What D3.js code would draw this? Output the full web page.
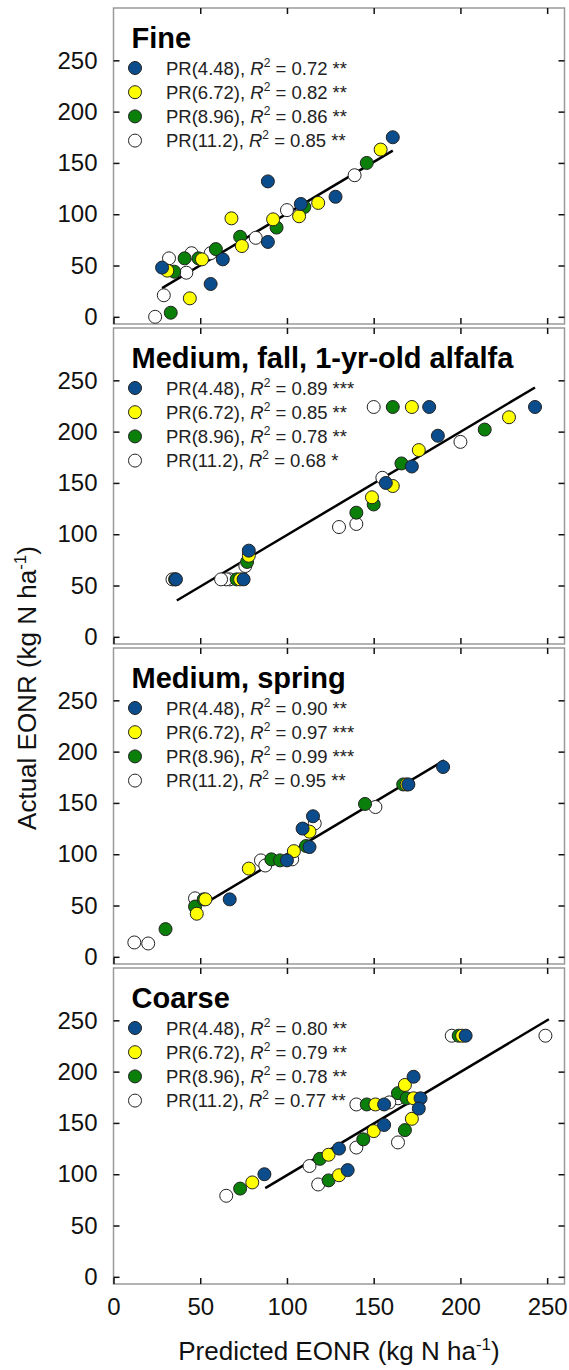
<!DOCTYPE html>
<html>
<head>
<meta charset="utf-8">
<script src="https://cdn.jsdelivr.net/npm/d3@7"></script>
<style>
  body { margin: 0; background: #fff; }
  svg { display: block; font-family: 'Liberation Sans', Arial, sans-serif; }
</style>
</head>
<body>
<svg id="chart" width="569" height="1370"></svg>
<script>
// panel titles and legend text
const panelTitles = ['Fine', 'Medium, fall, 1-yr-old alfalfa', 'Medium, spring', 'Coarse']
const seriesNames = ['PR(4.48)', 'PR(6.72)', 'PR(8.96)', 'PR(11.2)']
const seriesColors = ['#0b4c8c', '#ffff00', '#0a7f0a', '#ffffff']
const r2Values = [
  ['0.72 **', '0.82 **', '0.86 **', '0.85 **'],
  ['0.89 ***', '0.85 **', '0.78 **', '0.68 *'],
  ['0.90 **', '0.97 ***', '0.99 ***', '0.95 **'],
  ['0.80 **', '0.79 **', '0.78 **', '0.77 **']
]
const xTicks = [0, 50, 100, 150, 200, 250]
const yTicks = [0, 50, 100, 150, 200, 250]

// [predicted, actual] pairs, kg N/ha
const fine448 = [[89, 132], [128, 117], [89, 73], [63, 56], [56, 32], [28, 48], [161, 175], [108, 110]]
const fine672 = [[68, 96], [44, 18], [31, 45], [74, 69], [92, 95], [107, 98], [118, 111], [154, 163], [51, 56]]
const fine896 = [[33, 4], [35, 44], [41, 57], [49, 57], [59, 66], [73, 78], [94, 87], [110, 107], [146, 150]]
const fine112 = [[24, 0], [29, 21], [32, 57], [42, 43], [45, 62], [56, 62], [82, 77], [100, 104], [139, 138]]

const fall448 = [[182, 224], [243, 224], [187, 196], [172, 166], [157, 150], [78, 84], [75, 56], [36, 56]]
const fall672 = [[172, 224], [228, 214], [176, 182], [161, 147], [149, 136], [78, 79], [73, 56]]
const fall896 = [[161, 224], [214, 202], [166, 169], [150, 129], [140, 121], [77, 73], [71, 56], [35.5, 56]]
const fall112 = [[150, 224], [200, 190], [155, 155], [140, 110], [130, 107], [76, 69], [67, 56], [65, 56], [62, 56], [34, 56]]

const spring448 = [[67, 56], [100, 94], [113, 107], [109, 125], [115, 137], [170, 168], [190, 185]]
const spring672 = [[48, 42], [53, 56], [78, 86], [104, 103], [113, 122], [169, 168]]
const spring896 = [[30, 27], [47, 49], [52, 56], [91, 95], [96, 94], [111, 108], [145, 149], [167, 168]]
const spring112 = [[12, 14], [20, 13], [47, 57], [85, 94], [87.5, 89], [103, 95], [116, 130], [151, 146]]

const coarse448 = [[203, 235], [173, 195], [177, 174], [176, 164], [156, 168], [156, 148], [130, 125], [135, 104], [87, 100]]
const coarse672 = [[201, 235], [168, 187], [173, 174], [172, 154], [151, 168], [150, 142], [124, 119], [130, 99], [80, 92]]
const coarse896 = [[199, 235], [164, 179], [169, 174], [168, 143], [146, 168], [144, 134], [119, 115], [124, 94], [73, 86]]
const coarse112 = [[195, 235], [249, 235], [164, 174], [164, 131], [140, 168], [159, 170], [140, 126], [113, 108], [118, 90], [65, 79]]

// regression line end points [predicted, actual]
const fitLines = [
  [[28, 28], [161, 162]],
  [[36.5, 35.4], [243, 243]],
  [[53, 52.4], [190.6, 191.4]],
  [[87.5, 86.5], [251, 251]]
]

const panelSeries = [
  [fine448, fine672, fine896, fine112],
  [fall448, fall672, fall896, fall112],
  [spring448, spring672, spring896, spring112],
  [coarse448, coarse672, coarse896, coarse112]
]

const svg = d3.select('#chart')
const left = 113.5
const right = 564.5
const panelH = 316
const panelGap = 320
const firstTop = 8

const x = d3.scaleLinear().domain([0, 260]).range([left, right])

panelSeries.forEach((series, i) => {
  const top = firstTop + i * panelGap
  const y = d3.scaleLinear().domain([-7, 301]).range([top + panelH, top])
  const g = svg.append('g').attr('class', 'panel')

  // frame
  g.append('rect')
    .attr('x', left)
    .attr('y', top)
    .attr('width', right - left)
    .attr('height', panelH)
    .attr('fill', 'none')
    .attr('stroke', '#9a9a9a')
    .attr('stroke-width', 1.5)

  // axes, ticks pointing inwards
  const yAxis = g.append('g')
    .attr('transform', `translate(${left},0)`)
    .call(d3.axisLeft(y).tickValues(yTicks).tickSize(-6).tickPadding(16))
  yAxis.select('.domain').remove()
  yAxis.selectAll('text')
    .attr('font-size', 24)
    .attr('fill', '#111')

  const yAxisR = g.append('g')
    .attr('transform', `translate(${right},0)`)
    .call(d3.axisRight(y).tickValues(yTicks).tickSize(-6).tickFormat(''))
  yAxisR.select('.domain').remove()

  const xTop = g.append('g')
    .attr('transform', `translate(0,${top})`)
    .call(d3.axisTop(x).tickValues(xTicks.slice(1)).tickSize(-6).tickFormat(''))
  xTop.select('.domain').remove()

  const xBottom = g.append('g')
    .attr('transform', `translate(0,${top + panelH})`)
    .call(d3.axisBottom(x).tickValues(xTicks).tickSize(-6).tickPadding(14)
      .tickFormat(i === 3 ? d3.format('d') : ''))
  xBottom.select('.domain').remove()
  xBottom.selectAll('text')
    .attr('font-size', 24)
    .attr('fill', '#111')

  g.selectAll('.tick line')
    .attr('stroke', '#111')
    .attr('stroke-width', 1.5)

  // regression line
  g.append('line')
    .attr('x1', x(fitLines[i][0][0]))
    .attr('y1', y(fitLines[i][0][1]))
    .attr('x2', x(fitLines[i][1][0]))
    .attr('y2', y(fitLines[i][1][1]))
    .attr('stroke', '#000')
    .attr('stroke-width', 2.5)

  // points: white first, blue last
  ;[3, 2, 1, 0].forEach(s => {
    g.append('g').selectAll('circle')
      .data(series[s])
      .join('circle')
      .attr('cx', d => x(d[0]))
      .attr('cy', d => y(d[1]))
      .attr('r', 6.5)
      .attr('fill', seriesColors[s])
      .attr('stroke', '#222')
      .attr('stroke-width', 1)
  })

  // title
  g.append('text')
    .attr('x', 131.5)
    .attr('y', top + 40)
    .attr('font-size', 29)
    .attr('font-weight', 'bold')
    .attr('fill', '#000')
    .text(panelTitles[i])

  // legend
  seriesNames.forEach((name, s) => {
    const ry = top + 60 + s * 24.2
    g.append('circle')
      .attr('cx', 135)
      .attr('cy', ry)
      .attr('r', 6.5)
      .attr('fill', seriesColors[s])
      .attr('stroke', '#222')
      .attr('stroke-width', 1)
    const t = g.append('text')
      .attr('x', 166)
      .attr('y', ry + 6.5)
      .attr('font-size', 18.5)
      .attr('fill', '#222')
    t.append('tspan').text(name + ', ')
    t.append('tspan').attr('font-style', 'italic').text('R')
    t.append('tspan').attr('font-size', 12).attr('dy', -8).text('2')
    t.append('tspan').attr('dy', 8).text(' = ' + r2Values[i][s])
  })
})

// axis titles
const xTitle = svg.append('text')
  .attr('x', (left + right) / 2)
  .attr('y', 1360)
  .attr('text-anchor', 'middle')
  .attr('font-size', 26)
  .attr('fill', '#111')
xTitle.append('tspan').text('Predicted EONR (kg N ha')
xTitle.append('tspan').attr('font-size', 17).attr('dy', -10).text('-1')
xTitle.append('tspan').attr('dy', 10).text(')')

const yTitle = svg.append('text')
  .attr('transform', 'translate(36,688) rotate(-90)')
  .attr('text-anchor', 'middle')
  .attr('font-size', 26)
  .attr('fill', '#111')
yTitle.append('tspan').text('Actual EONR (kg N ha')
yTitle.append('tspan').attr('font-size', 17).attr('dy', -10).text('-1')
yTitle.append('tspan').attr('dy', 10).text(')')
</script>
</body>
</html>
